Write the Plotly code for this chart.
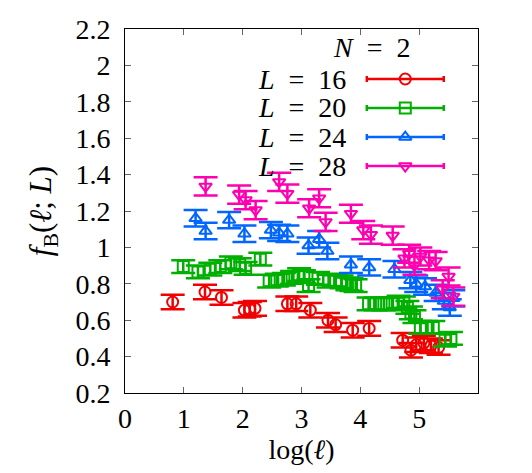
import plotly.graph_objects as go

# ---- data ----
x16 = [0.81, 1.36, 1.64, 2.03, 2.12, 2.21, 2.76, 2.91, 3.15, 3.45, 3.58, 3.87, 4.15, 4.72, 4.86, 4.95, 5.08, 5.2, 5.33]
y16 = [0.70, 0.755, 0.725, 0.655, 0.66, 0.665, 0.69, 0.69, 0.655, 0.60, 0.575, 0.545, 0.555, 0.49, 0.435, 0.465, 0.475, 0.46, 0.45]
e16 = [0.04] * len(x16)

x20 = [0.99, 1.24, 1.45, 1.62, 1.80, 1.95, 2.05, 2.30, 2.45, 2.58, 2.70, 2.84, 2.96, 3.04, 3.12, 3.28, 3.46, 3.58, 3.68, 3.78, 3.85, 3.92,
       4.14, 4.26, 4.40, 4.54, 4.65, 4.74, 4.80, 4.86, 4.92, 5.02, 5.12, 5.24, 5.44, 5.54]
y20 = [0.895, 0.865, 0.88, 0.895, 0.915, 0.905, 0.885, 0.935, 0.815, 0.82, 0.825, 0.835, 0.85, 0.84, 0.79, 0.83, 0.815, 0.82, 0.81, 0.80, 0.795, 0.79,
       0.69, 0.69, 0.69, 0.69, 0.70, 0.695, 0.67, 0.64, 0.62, 0.56, 0.56, 0.56, 0.49, 0.50]
e20 = [0.035] * len(x20)

x24 = [1.2, 1.37, 1.77, 2.03, 2.48, 2.62, 2.76, 3.12, 3.3, 3.44, 3.84, 4.15, 4.58, 4.85, 4.95, 5.1, 5.28, 5.42, 5.52, 5.58]
y24 = [1.16, 1.09, 1.15, 1.075, 1.095, 1.08, 1.075, 1.01, 1.045, 0.98, 0.905, 0.89, 0.88, 0.82, 0.80, 0.785, 0.75, 0.705, 0.67, 0.72]
e24 = [0.045] * len(x24)

x28 = [1.37, 1.94, 2.05, 2.22, 2.62, 2.76, 3.13, 3.3, 3.41, 3.84, 4.05, 4.18, 4.55, 4.75, 4.83, 4.92, 5.02, 5.17, 5.28, 5.4, 5.5, 5.58]
y28 = [1.335, 1.29, 1.26, 1.205, 1.36, 1.295, 1.215, 1.27, 1.14, 1.185, 1.095, 1.07, 1.065, 0.94, 0.965, 0.90, 0.95, 0.93, 0.925, 0.77, 0.84, 0.73]
e28 = [0.05] * len(x28)

SP = "\u2002"
labels = [f"<i>L</i>{SP}={SP}16", f"<i>L</i>{SP}={SP}20", f"<i>L</i>{SP}={SP}24", f"<i>L</i>{SP}={SP}28"]
key_title = f"<i>N</i>{SP}={SP}2"
colors = ["#f00000", "#00b000", "#0066ff", "#ff00b0"]
symbols = ["circle-open", "square-open", "triangle-up-open", "triangle-down-open"]
series = [(x16, y16, e16), (x20, y20, e20), (x24, y24, e24), (x28, y28, e28)]

FONT = "Liberation Serif"
FS = 28
fig = go.Figure()

for (xs, ys, es), c, s in zip(series, colors, symbols):
    fig.add_trace(go.Scatter(
        x=xs, y=ys, mode="markers",
        marker=dict(symbol=s, size=11, color=c, line=dict(color=c, width=2)),
        error_y=dict(type="data", array=es, color=c, thickness=2.5, width=12),
        showlegend=False, hoverinfo="skip"))

# custom key (gnuplot style) on an overlay axis in [0,1]
key_rows = [0.8626, 0.783, 0.703, 0.6236]
for lab, c, s, ky in zip(labels, colors, symbols, key_rows):
    fig.add_trace(go.Scatter(
        x=[0.794], y=[ky], xaxis="x2", yaxis="y2", mode="markers",
        marker=dict(symbol=s, size=11, color=c, line=dict(color=c, width=2)),
        error_x=dict(type="constant", value=0.109, color=c, thickness=2.5, width=3),
        showlegend=False, hoverinfo="skip"))
    fig.add_annotation(x=0.632, y=ky, xref="paper", yref="paper", text=lab,
                       showarrow=False, xanchor="right", yanchor="middle",
                       font=dict(family=FONT, size=FS, color="black"))
fig.add_annotation(x=0.697, y=0.948, xref="paper", yref="paper", text=key_title,
                   showarrow=False, xanchor="center", yanchor="middle",
                   font=dict(family=FONT, size=FS, color="black"))

fig.update_layout(
    width=532, height=473,
    margin=dict(l=125, r=54, t=29, b=80),
    paper_bgcolor="white", plot_bgcolor="white",
    font=dict(family=FONT, size=FS, color="black"),
    xaxis=dict(range=[0, 6], tickvals=[0, 1, 2, 3, 4, 5], ticks="inside", ticklen=6,
               tickcolor="#666", showline=True, linecolor="black", linewidth=1, mirror="ticks",
               showgrid=False, zeroline=False, tickfont=dict(size=FS),
               title=dict(text="log(<i>ℓ</i>)", standoff=2, font=dict(size=FS))),
    yaxis=dict(range=[0.2, 2.2], dtick=0.2, tick0=0.2, ticks="inside", ticklen=6,
               tickcolor="#666", showline=True, linecolor="black", linewidth=1, mirror="ticks",
               showgrid=False, zeroline=False, tickfont=dict(size=FS), ticklabelstandoff=8,
               title=dict(text="<i>f</i><sub>B</sub>(<i>ℓ</i>; <i>L</i>)", standoff=14, font=dict(size=31))),
    xaxis2=dict(range=[0, 1], overlaying="x", visible=False, fixedrange=True),
    yaxis2=dict(range=[0, 1], overlaying="y", visible=False, fixedrange=True),
)

fig.write_html("out.html")
